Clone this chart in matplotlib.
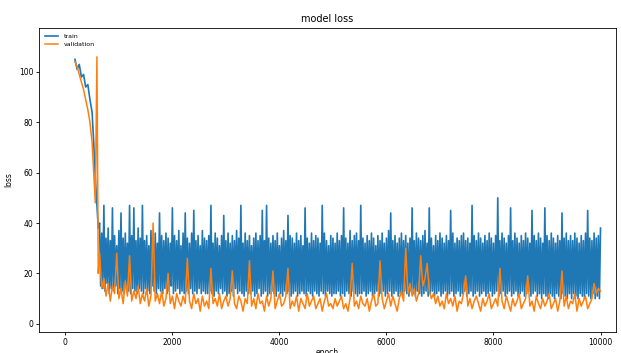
import numpy as np
import matplotlib.pyplot as plt

# early part of training (before the loss settles)
early_epoch = [180, 220, 260, 300, 340, 380, 420, 460, 500, 530, 560, 590, 615]
train_early = [105, 101, 103, 98, 99, 94, 95, 89, 84, 72, 58, 47, 38]
val_early = [104, 102, 99, 96, 93, 89, 85, 80, 72, 60, 48, 106, 20]

# settled part of train loss, one value every 20 epochs from 640 to 10000
train_band = [
    40, 15, 36, 14, 47, 13, 34, 16, 38, 12, 33, 14, 46, 13, 35, 15, 31, 12, 37, 14,
    44, 13, 34, 12, 36, 15, 32, 13, 47, 12, 35, 14, 46, 13, 33, 12, 38, 14, 34, 13,
    47, 12, 33, 14, 35, 13, 31, 12, 37, 15, 34, 13, 36, 12, 32, 14, 44, 13, 35, 12,
    33, 14, 36, 12, 34, 13, 32, 15, 46, 12, 35, 13, 33, 14, 37, 12, 31, 13, 36, 12,
    44, 13, 34, 12, 32, 14, 36, 12, 45, 13, 33, 12, 35, 14, 31, 12, 37, 13, 34, 12,
    33, 12, 35, 13, 47, 12, 32, 11, 36, 13, 34, 12, 31, 14, 35, 12, 43, 13, 33, 11,
    36, 12, 32, 13, 35, 11, 33, 14, 37, 12, 34, 13, 47, 12, 32, 11, 36, 13, 33, 12,
    35, 12, 31, 13, 34, 11, 36, 12, 33, 14, 35, 11, 45, 12, 33, 13, 47, 11, 34, 12,
    32, 13, 35, 12, 33, 11, 36, 13, 31, 12, 34, 11, 37, 13, 33, 12, 43, 13, 35, 11,
    34, 12, 32, 13, 36, 11, 33, 12, 35, 13, 31, 12, 46, 11, 34, 13, 32, 12, 36, 11,
    33, 13, 35, 12, 34, 11, 32, 13, 47, 12, 36, 11, 33, 13, 31, 12, 35, 11, 34, 12,
    32, 12, 36, 13, 33, 11, 35, 12, 46, 11, 34, 13, 32, 12, 37, 11, 33, 13, 35, 12,
    36, 11, 33, 12, 47, 12, 34, 13, 32, 11, 35, 12, 33, 13, 36, 11, 34, 12, 31, 13,
    35, 11, 33, 12, 36, 13, 32, 11, 34, 12, 37, 13, 44, 11, 33, 12, 35, 13, 32, 11,
    34, 12, 36, 11, 33, 13, 35, 12, 32, 11, 34, 13, 46, 12, 33, 11, 36, 13, 34, 12,
    33, 11, 35, 12, 37, 13, 32, 11, 46, 12, 34, 13, 31, 11, 35, 12, 33, 13, 36, 11,
    34, 12, 32, 13, 35, 11, 33, 12, 45, 13, 36, 11, 32, 12, 34, 13, 33, 11, 35, 12,
    36, 13, 33, 11, 34, 12, 32, 13, 47, 11, 35, 12, 33, 13, 36, 11, 34, 12, 32, 13,
    35, 11, 33, 12, 36, 13, 34, 11, 32, 12, 35, 13, 50, 11, 33, 12, 36, 13, 34, 11,
    32, 12, 35, 13, 46, 11, 33, 12, 36, 13, 34, 11, 32, 12, 35, 13, 33, 11, 36, 12,
    34, 13, 32, 11, 45, 12, 35, 13, 33, 11, 36, 12, 34, 10, 32, 12, 46, 11, 35, 10,
    33, 12, 36, 11, 34, 10, 32, 12, 35, 11, 33, 10, 44, 12, 34, 11, 36, 10, 33, 12,
    35, 10, 33, 12, 36, 11, 34, 10, 32, 12, 35, 11, 33, 10, 36, 12, 45, 11, 34, 10,
    33, 12, 36, 10, 34, 11, 35, 10, 38,
]

# settled part of validation loss, one value every 40 epochs from 640 to 10000
val_band = [
    28, 14, 18, 11, 16, 9, 15, 12, 28, 10,
    14, 8, 17, 11, 27, 9, 13, 10, 15, 8,
    12, 9, 14, 7, 11, 40, 9, 12, 8, 13,
    7, 10, 20, 8, 11, 6, 12, 9, 7, 11,
    8, 26, 9, 6, 12, 8, 10, 5, 11, 7,
    9, 6, 22, 8, 10, 7, 12, 6, 9, 11,
    7, 10, 21, 8, 6, 11, 9, 5, 10, 8,
    25, 7, 10, 6, 12, 8, 9, 5, 11, 7,
    10, 21, 6, 9, 12, 7, 8, 11, 22, 6,
    9, 7, 11, 5, 10, 8, 6, 12, 7, 9,
    11, 6, 8, 10, 5, 9, 12, 7, 8, 6,
    10, 7, 9, 11, 6, 8, 5, 10, 24, 7,
    9, 6, 11, 8, 7, 10, 5, 9, 12, 7,
    8, 25, 10, 6, 9, 12, 7, 11, 8, 5,
    10, 13, 9, 30, 12, 16, 11, 14, 9, 12,
    27, 15, 18, 24, 13, 10, 12, 8, 11, 7,
    9, 6, 12, 8, 10, 7, 11, 5, 9, 8,
    12, 19, 7, 10, 6, 9, 11, 8, 5, 10,
    7, 9, 12, 6, 8, 10, 7, 22, 9, 6,
    11, 8, 5, 10, 7, 9, 12, 6, 8, 10,
    19, 7, 9, 5, 11, 8, 6, 10, 7, 9,
    12, 6, 8, 10, 5, 9, 21, 7, 11, 6,
    9, 8, 12, 5, 10, 7, 9, 11, 6, 8,
    10, 16, 12, 14, 13,
]

train_epoch = np.concatenate([early_epoch, np.arange(640, 10001, 20)])
val_epoch = np.concatenate([early_epoch, np.arange(640, 10001, 40)])
loss = np.concatenate([train_early, train_band])
val_loss = np.concatenate([val_early, val_band])

fig = plt.figure(figsize=(6.21, 3.53), dpi=100)
ax = fig.add_axes([0.063, 0.06, 0.929, 0.861])
ax.plot(train_epoch, loss, color='tab:blue', lw=1.2, label='train')
ax.plot(val_epoch, val_loss, color='tab:orange', lw=1.1, label='validation')
ax.set_xlim(-490, 10290)
ax.set_ylim(-3.2, 117.5)
ax.set_xticks([0, 2000, 4000, 6000, 8000, 10000])
ax.set_yticks([0, 20, 40, 60, 80, 100])
ax.tick_params(labelsize=5.5, length=2.2, width=0.6, pad=2)
for s in ax.spines.values():
    s.set_linewidth(0.6)
ax.set_title('model loss', fontsize=7, pad=4)
ax.set_xlabel('epoch', fontsize=5.5, labelpad=1)
ax.set_ylabel('loss', fontsize=5.5, labelpad=4)
ax.legend(loc='upper left', fontsize=4.5, frameon=False, handlelength=2.2)

fig.savefig('out.png', dpi=100)
